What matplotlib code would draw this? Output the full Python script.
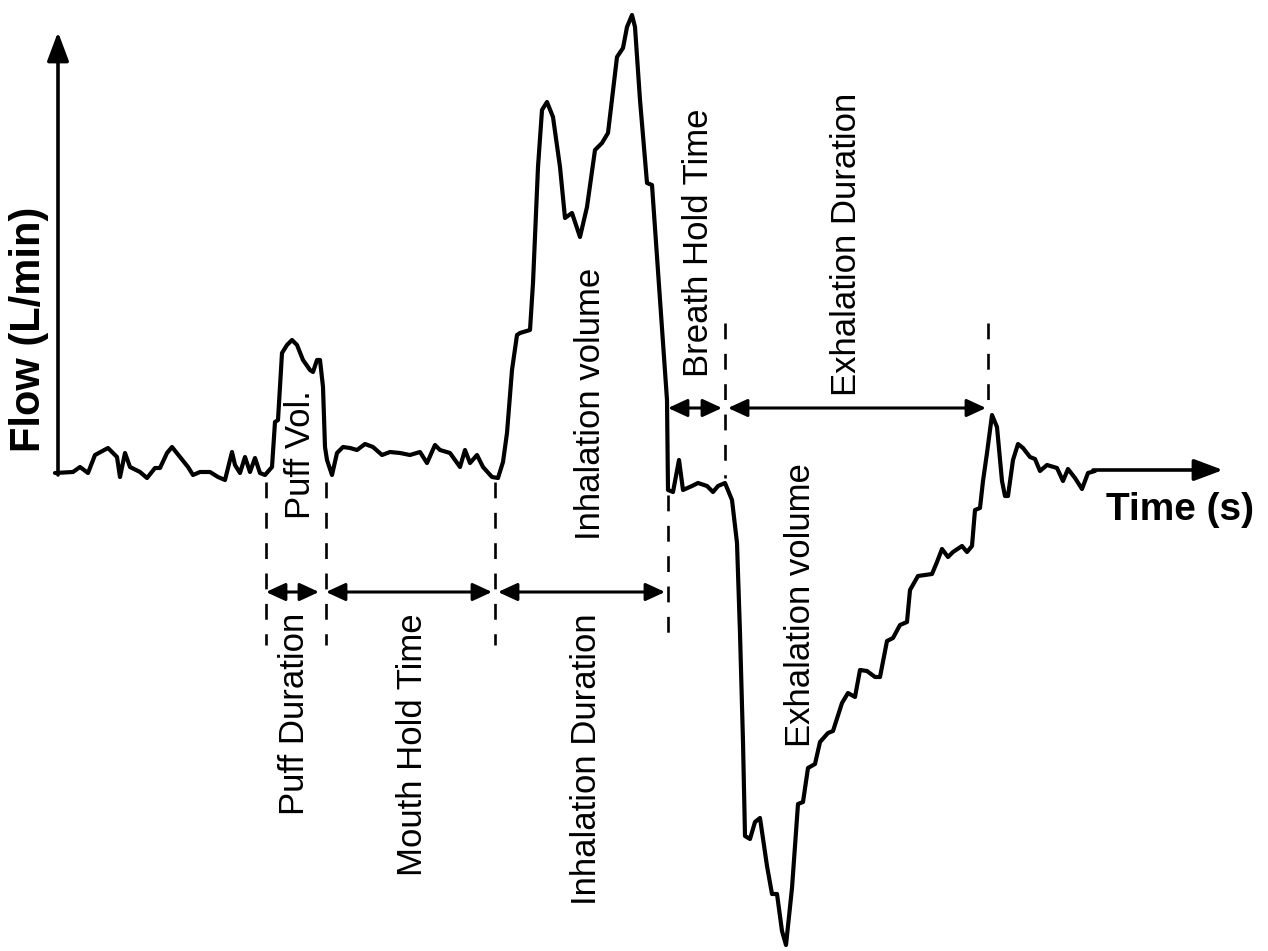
import numpy as np
import matplotlib.pyplot as plt

plt.rcParams['font.family'] = ['Liberation Sans', 'DejaVu Sans']

# Flow trace (arbitrary time units, flow relative to baseline)
time = [55, 73, 80, 88, 95, 108, 117, 120, 125, 130, 140, 147, 155, 160, 167, 172, 180, 188, 193, 200,
        210, 218, 225, 232, 235, 240, 245, 250, 255, 260, 265, 272, 275, 278, 282, 287, 292, 297, 303, 310,
        313, 317, 320, 323, 325, 327, 332, 337, 343, 350, 357, 365, 373, 382, 390, 400, 410, 420, 427, 435,
        440, 450, 455, 460, 465, 470, 477, 483, 492, 498, 503, 507, 512, 517,
        520, 530, 533, 538, 542, 547, 553, 560, 565, 572, 580, 587, 595, 602, 608, 617, 623, 627, 632, 635,
        640, 647, 652, 660, 667, 668, 673, 679, 683,
        692, 698, 707, 713, 718, 725, 732, 737, 740, 743, 745, 750, 755, 760, 767, 772, 777, 782, 786, 792,
        798, 803, 808, 815, 820, 828, 833, 842, 848, 855, 860, 867, 875, 880, 887, 893, 900, 907, 910, 918,
        932, 937, 942, 948, 953, 962, 967, 972, 975, 980, 983, 987, 992, 997, 1002, 1005, 1008, 1013, 1018,
        1023, 1030, 1035, 1040, 1047, 1057, 1063, 1068, 1075, 1082, 1088, 1095]
flow = [-3, -2, 3, -3, 15, 22, 13, -7, 17, 3, -2, -8, 2, 2, 17, 23, 13, 3, -5, -2,
        -2, -7, -10, 18, 5, -3, 13, -2, 12, -3, -5, 3, 48, 50, 117, 125, 130, 125, 110, 100,
        98, 110, 110, 83, 23, 10, -5, 17, 23, 22, 20, 26, 23, 15, 18, 17, 15, 18, 7, 25,
        20, 17, 10, 3, 20, 7, 15, 3, -7, -8, 8, 37, 100, 135,
        137, 140, 187, 303, 360, 368, 353, 303, 252, 257, 233, 263, 320, 327, 337, 413, 422, 443, 455, 443,
        370, 287, 285, 170, 70, -20, -22, 10, -20,
        -16, -13, -16, -22, -16, -13, -30, -73, -163, -272, -366, -369, -352, -348, -396, -424, -424, -461, -475, -418,
        -334, -332, -298, -294, -272, -263, -261, -233, -223, -227, -200, -201, -207, -207, -171, -168, -155, -152, -120, -106,
        -104, -92, -79, -87, -82, -76, -82, -76, -40, -38, -11, 17, 55, 43, -11, -26, -26, 10, 26,
        22, 13, 11, -1, 5, 2, -11, 1, -8, -19, -3, -1]

# Event markers (start/end of each phase)
puff_start, puff_end = 266, 326
inhale_start, inhale_end = 495, 668
hold_end, exhale_end = 725, 988

fig = plt.figure(figsize=(12.68, 9.51), dpi=100)
ax = fig.add_axes([0, 0, 1, 1])
ax.set_xlim(0, 1268)
ax.set_ylim(-481, 470)
ax.axis('off')

# axes drawn as arrows
ax.annotate('', xy=(58, 438), xytext=(58, -5),
            arrowprops=dict(arrowstyle='-|>,head_length=0.8,head_width=0.3', lw=2.6, color='k',
                            mutation_scale=22, shrinkA=0, shrinkB=0))
ax.annotate('', xy=(1223, 0), xytext=(1093, 0),
            arrowprops=dict(arrowstyle='-|>,head_length=0.8,head_width=0.3', lw=2.6, color='k',
                            mutation_scale=22, shrinkA=0, shrinkB=0))

ax.plot(time, flow, color='k', lw=3, solid_joinstyle='round', solid_capstyle='round', zorder=3)

# dashed event lines
dash = (0, (6, 5.5))
for x in [puff_start, puff_end, inhale_start]:
    ax.plot([x, x], [-12, -175], color='k', lw=1.9, ls=dash)
ax.plot([inhale_end, inhale_end], [-25, -172], color='k', lw=1.9, ls=dash)
ax.plot([hold_end, hold_end], [147, -8], color='k', lw=1.9, ls=dash)
ax.plot([exhale_end, exhale_end], [147, 62], color='k', lw=1.9, ls=dash)

# double headed duration arrows
def span(x0, x1, y):
    ax.annotate('', xy=(x1, y), xytext=(x0, y),
                arrowprops=dict(arrowstyle='<|-|>,head_length=0.65,head_width=0.3', lw=2.2, color='k',
                                mutation_scale=18, shrinkA=0, shrinkB=0))

span(puff_start, puff_end - 7, -122)
span(puff_end, inhale_start - 3, -122)
span(inhale_start + 3, inhale_end - 3, -122)
span(inhale_end, hold_end - 3, 62)
span(hold_end + 3, exhale_end - 2, 62)

fs = 25
ax.text(300, 15, 'Puff Vol.', rotation=90, fontsize=fs, ha='center', va='center')
ax.text(590, 66, 'Inhalation volume', rotation=90, fontsize=fs, ha='center', va='center')
ax.text(698, 227, 'Breath Hold Time', rotation=90, fontsize=fs, ha='center', va='center')
ax.text(846, 226, 'Exhalation Duration', rotation=90, fontsize=fs, ha='center', va='center')
ax.text(801, -135, 'Exhalation volume', rotation=90, fontsize=fs, ha='center', va='center')
ax.text(295, -143, 'Puff Duration', rotation=90, fontsize=fs, ha='center', va='top')
ax.text(413, -143, 'Mouth Hold Time', rotation=90, fontsize=fs, ha='center', va='top')
ax.text(587, -143, 'Inhalation Duration', rotation=90, fontsize=fs, ha='center', va='top')

ax.text(1180, -40, 'Time (s)', fontsize=28, fontweight='bold', ha='center', va='center')
ax.text(29, 141, 'Flow (L/min)', rotation=90, fontsize=30, fontweight='bold', ha='center', va='center')

plt.savefig('out.png', dpi=100)
